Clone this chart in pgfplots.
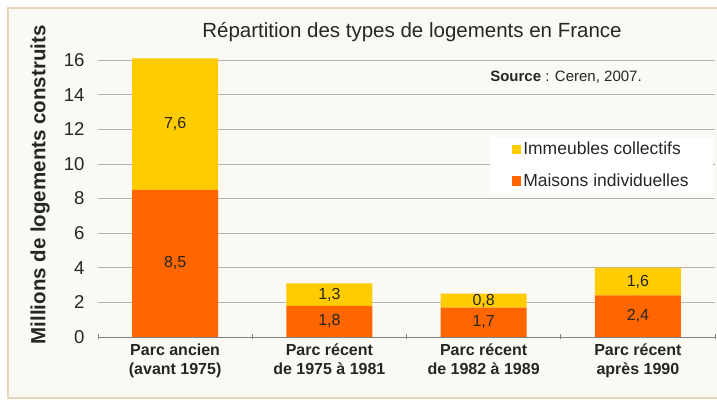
\documentclass[border=0pt]{standalone}
\usepackage{pgfplots}
\pgfplotsset{compat=1.18}
\usepackage{fontspec}
\setmainfont{Liberation Sans}
\definecolor{cyel}{HTML}{FFCC00}
\definecolor{corg}{HTML}{FF6600}
\definecolor{cbg}{HTML}{FBF9F4}
\definecolor{cframe}{HTML}{E6D6BC}
\definecolor{cgrid}{HTML}{B4B4B4}
\definecolor{ctxt}{HTML}{262626}
\begin{document}
\begin{tikzpicture}[x=1pt,y=1pt]
\useasboundingbox (0,0) rectangle (717,403);
\fill[white] (0,0) rectangle (717,403);
\begin{scope}
\clip (0,0) rectangle (717,403);
\draw[cframe, line width=2.5pt, fill=cbg] (8,5) rectangle (730,395);
\end{scope}
\node[anchor=base, font=\fontsize{20.5}{24}\selectfont, text=ctxt] at (412,365.7) {Répartition des types de logements en France};
\begin{axis}[
  at={(98pt,66pt)}, anchor=south west,
  scale only axis, width=617pt, height=277pt,
  ybar stacked, bar width=86pt,
  clip=false,
  xmin=-0.5, xmax=3.5, ymin=0, ymax=16,
  ytick={0,2,...,16},
  xtick={0,1,2,3},
  xticklabels={{Parc ancien\\(avant 1975)},{Parc récent\\de 1975 à 1981},{Parc récent\\de 1982 à 1989},{Parc récent\\après 1990}},
  minor xtick={-0.5,0.5,1.5,2.5,3.5},
  major tick length=0pt, minor tick length=5pt, tick align=outside,
  minor tick style={gray, line width=0.7pt},
  axis x line=bottom, axis y line=left,
  x axis line style={-, gray, line width=0.8pt},
  y axis line style={draw=none},
  ymajorgrids, grid style={cgrid, line width=0.7pt},
  xticklabel style={font=\fontsize{16}{19.5}\selectfont\bfseries, text=ctxt, align=center, yshift=-3pt},
  yticklabel style={font=\fontsize{18.6}{22}\selectfont, text=ctxt, xshift=-10pt},
  /pgf/number format/assume math mode=true,
  ylabel={Millions de logements construits},
  ylabel style={font=\fontsize{20.5}{24}\selectfont\bfseries, text=ctxt, at={(axis description cs:-0.094,0.549)}, anchor=center},
  legend style={at={(axis description cs:0.635,0.722)}, anchor=north west, draw=none, fill=white,
    font=\fontsize{17.5}{20}\selectfont, text=ctxt, inner xsep=22pt, inner ysep=3pt, row sep=13.5pt,
    /tikz/every even column/.append style={column sep=0pt}},
  legend cell align=left,
  reverse legend,
  legend image code/.code={\fill[#1] (0pt,-4.6pt) rectangle (9.3pt,4.6pt);},
  point meta=explicit,
  nodes near coords={\pgfmathprintnumber[use comma, fixed, precision=1, fixed zerofill]{\pgfplotspointmeta}},
  every node near coord/.append style={anchor=center, font=\fontsize{16}{19}\selectfont, text=ctxt},
]
\addplot[fill=corg, draw=none] coordinates {(0,8.5) [8.5] (1,1.8) [1.8] (2,1.7) [1.7] (3,2.4) [2.4]};
\addlegendentry{Maisons individuelles}
\addplot[fill=cyel, draw=none] coordinates {(0,7.6) [7.6] (1,1.3) [1.3] (2,0.8) [0.8] (3,1.6) [1.6]};
\addlegendentry{Immeubles collectifs}
\node[anchor=west, font=\fontsize{15}{18}\selectfont, text=ctxt] at (axis description cs:0.630,0.936) {\textbf{Source} : Ceren, 2007.};
\end{axis}
\end{tikzpicture}
\end{document}
